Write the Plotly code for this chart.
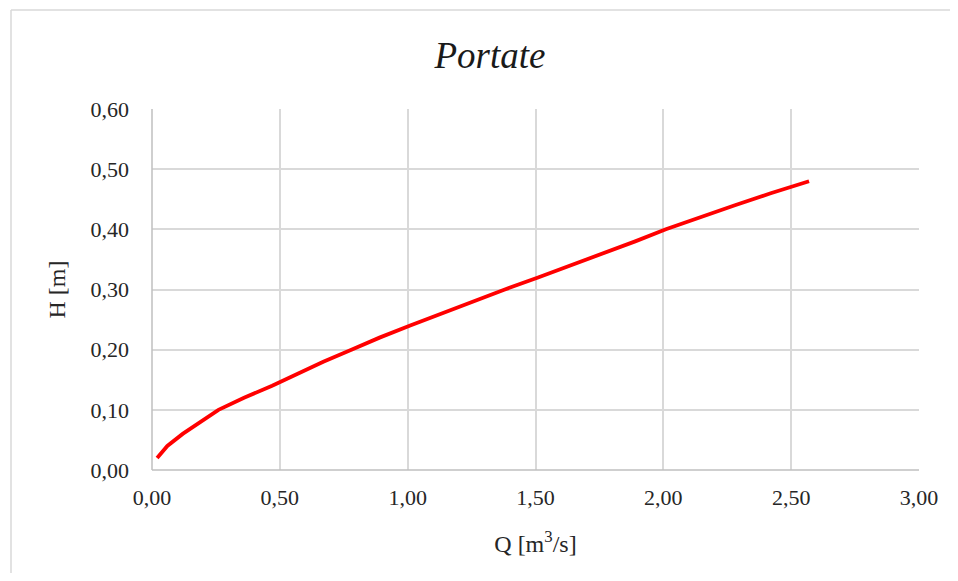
import plotly.graph_objects as go

# Data
portata_q = [0.02, 0.06, 0.12, 0.19, 0.26, 0.36, 0.47, 0.57, 0.67, 0.78, 0.89,
             1.01, 1.13, 1.26, 1.38, 1.51, 1.64, 1.77, 1.89, 2.01, 2.14, 2.28,
             2.42, 2.57]
altezza_h = [0.02, 0.04, 0.06, 0.08, 0.10, 0.12, 0.14, 0.16, 0.18, 0.20, 0.22,
             0.24, 0.26, 0.28, 0.30, 0.32, 0.34, 0.36, 0.38, 0.40, 0.42, 0.44,
             0.46, 0.48]

x_ticks = [0, 0.5, 1.0, 1.5, 2.0, 2.5, 3.0]
y_ticks = [0, 0.1, 0.2, 0.3, 0.4, 0.5, 0.6]

FONT = "Liberation Serif, Times New Roman, serif"
OFF = 8  # page body margin
W, H = 958 - 2 * OFF, 581 - 2 * OFF
L, T = 152 - OFF, 109 - OFF
R = W - (919 - OFF)
B = H - (470 - OFF)

fig = go.Figure()
fig.add_trace(go.Scatter(
    x=portata_q, y=altezza_h, mode="lines",
    line=dict(color="#ff0000", width=3.8),
    showlegend=False, hoverinfo="skip"))

axis_common = dict(
    showgrid=True, gridcolor="#d9d9d9", gridwidth=1.5,
    zeroline=False, showline=False, mirror=False,
    tickfont=dict(family=FONT, size=22, color="#262626"),
    tickformat=".2f", ticks="",
)

fig.update_xaxes(range=[0, 3.0], tickvals=x_ticks, ticklabelstandoff=12,
                 title=dict(text="Q [m<sup>3</sup>/s]", font=dict(family=FONT, size=24, color="#262626"), standoff=26),
                 **axis_common)
fig.update_yaxes(range=[0, 0.6], tickvals=y_ticks, ticklabelstandoff=22,
                 title=dict(text="H [m]", font=dict(family=FONT, size=24, color="#262626"), standoff=18),
                 **axis_common)

pw = W - L - R
ph = H - T - B
bx = (11 - OFF - L) / pw
by = 1 + (T - (10 - OFF)) / ph
shapes = [
    # outer chart border (left and top edges visible in the frame)
    dict(type="line", xref="paper", yref="paper", x0=bx, x1=bx, y0=-(B + 20) / ph, y1=by,
         line=dict(color="#d9d9d9", width=1.5), layer="below"),
    dict(type="line", xref="paper", yref="paper", x0=bx, x1=1 + (R + 20) / pw, y0=by, y1=by,
         line=dict(color="#d9d9d9", width=1.5), layer="below"),
    # plot-area axes (left & bottom) darker gray
    dict(type="line", xref="paper", yref="paper", x0=0, x1=0, y0=0, y1=1,
         line=dict(color="#bfbfbf", width=1.5)),
    dict(type="line", xref="paper", yref="paper", x0=0, x1=1, y0=0, y1=0,
         line=dict(color="#bfbfbf", width=1.5)),
]

fig.update_layout(
    width=W, height=H,
    margin=dict(l=L, r=R, t=T, b=B),
    paper_bgcolor="white", plot_bgcolor="white",
    separators=",.",
    title=dict(text="<i>Portate</i>", x=(490 - OFF) / W, xanchor="center",
               y=1 - (55 - OFF) / H, yanchor="middle", xref="container", yref="container",
               font=dict(family=FONT, size=37, color="#1a1a1a")),
    shapes=shapes,
)

fig.write_html("out.html")
